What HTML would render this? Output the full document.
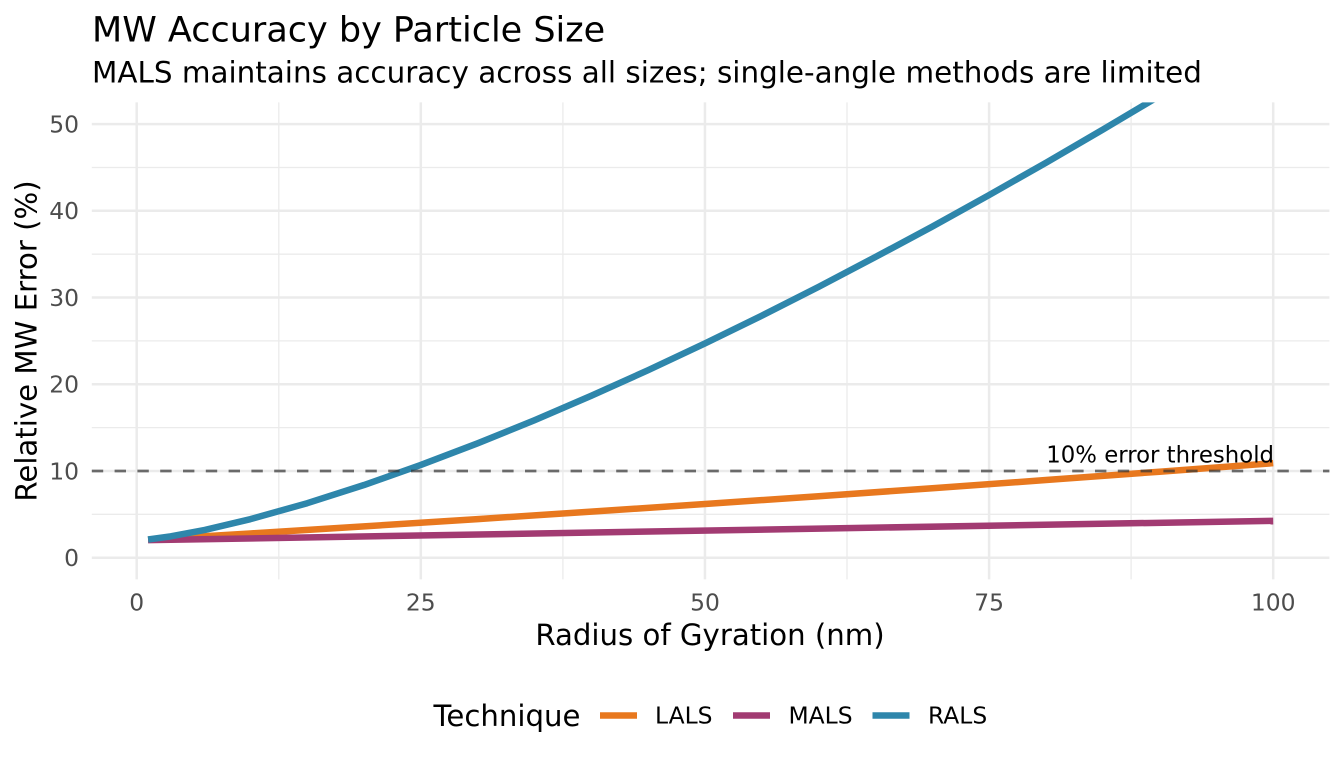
<!DOCTYPE html>
<html>
<head>
<meta charset="utf-8">
<style>
  html, body { margin:0; padding:0; background:#ffffff; }
  body { width:1344px; height:768px; overflow:hidden; }
  svg { display:block; font-family:"DejaVu Sans", "Liberation Sans", sans-serif; }
</style>
</head>
<body>
<svg width="1344" height="768" viewBox="0 0 1344 768" xmlns="http://www.w3.org/2000/svg">
  <rect x="0" y="0" width="1344" height="768" fill="#ffffff"/>
  <defs>
    <clipPath id="panel">
      <rect x="91.8" y="102.4" width="1237.6" height="477"/>
    </clipPath>
  </defs>

  <!-- minor gridlines -->
  <g stroke="#EBEBEB" stroke-width="1.3" fill="none">
    <line x1="278.8" y1="102.4" x2="278.8" y2="579.4"/>
    <line x1="562.9" y1="102.4" x2="562.9" y2="579.4"/>
    <line x1="847.0" y1="102.4" x2="847.0" y2="579.4"/>
    <line x1="1131.1" y1="102.4" x2="1131.1" y2="579.4"/>
    <line x1="91.8" y1="514.3" x2="1329.4" y2="514.3"/>
    <line x1="91.8" y1="427.6" x2="1329.4" y2="427.6"/>
    <line x1="91.8" y1="340.9" x2="1329.4" y2="340.9"/>
    <line x1="91.8" y1="254.2" x2="1329.4" y2="254.2"/>
    <line x1="91.8" y1="167.5" x2="1329.4" y2="167.5"/>
  </g>
  <!-- major gridlines -->
  <g stroke="#EBEBEB" stroke-width="2.5" fill="none">
    <line x1="136.7" y1="102.4" x2="136.7" y2="579.4"/>
    <line x1="420.8" y1="102.4" x2="420.8" y2="579.4"/>
    <line x1="704.95" y1="102.4" x2="704.95" y2="579.4"/>
    <line x1="989.1" y1="102.4" x2="989.1" y2="579.4"/>
    <line x1="1273.2" y1="102.4" x2="1273.2" y2="579.4"/>
    <line x1="91.8" y1="557.7" x2="1329.4" y2="557.7"/>
    <line x1="91.8" y1="471.0" x2="1329.4" y2="471.0"/>
    <line x1="91.8" y1="384.3" x2="1329.4" y2="384.3"/>
    <line x1="91.8" y1="297.5" x2="1329.4" y2="297.5"/>
    <line x1="91.8" y1="210.8" x2="1329.4" y2="210.8"/>
    <line x1="91.8" y1="124.1" x2="1329.4" y2="124.1"/>
  </g>

  <!-- series -->
  <g clip-path="url(#panel)" fill="none" stroke-width="6.5" stroke-linejoin="round" stroke-linecap="butt">
    <polyline stroke="#E8781E" points="148.07,539.67 250.35,533.45 364.0,526.36 477.65,519.09 591.3,511.65 704.95,504.02 818.6,496.21 932.25,488.22 1045.9,480.05 1159.55,471.71 1273.2,463.17"/>
    <polyline stroke="#A23B72" points="148.07,540.16 1273.2,520.84"/>
    <polyline stroke="#2E86AB" points="148.07,539.48 170.8,536.36 204.9,529.91 250.35,519.16 307.2,503.20 364.0,485.02 420.8,464.97 477.65,443.32 534.5,420.25 591.3,395.79 648.1,370.21 704.95,343.41 761.8,315.66 818.6,286.87 875.4,257.04 932.25,226.6 989.1,195.03 1045.9,162.77 1102.7,129.65 1159.55,95.9 1216.4,61.4 1273.2,26.0"/>
  </g>

  <!-- threshold dashed line -->
  <line x1="91.8" y1="471.0" x2="1329.4" y2="471.0" stroke="#333333" stroke-opacity="0.7" stroke-width="2.8" stroke-dasharray="11.4 11.4"/>
  <text x="1274" y="462.3" font-size="22.8" text-anchor="end" fill="#000000">10% error threshold</text>

  <!-- y tick labels -->
  <g font-size="23.4" fill="#4D4D4D" text-anchor="end">
    <text x="79" y="566.0">0</text>
    <text x="79" y="479.3">10</text>
    <text x="79" y="392.6">20</text>
    <text x="79" y="305.8">30</text>
    <text x="79" y="219.1">40</text>
    <text x="79" y="132.4">50</text>
  </g>
  <!-- x tick labels -->
  <g font-size="23.4" fill="#4D4D4D" text-anchor="middle">
    <text x="136.7" y="610.5">0</text>
    <text x="420.8" y="610.5">25</text>
    <text x="704.95" y="610.5">50</text>
    <text x="989.1" y="610.5">75</text>
    <text x="1273.2" y="610.5">100</text>
  </g>

  <!-- axis titles -->
  <text x="710" y="645" font-size="29.2" text-anchor="middle" fill="#000000">Radius of Gyration (nm)</text>
  <text transform="translate(36.5,341) rotate(-90)" font-size="29.2" text-anchor="middle" fill="#000000">Relative MW Error (%)</text>

  <!-- title / subtitle -->
  <text x="92" y="41.7" font-size="35" fill="#000000">MW Accuracy by Particle Size</text>
  <text x="92" y="82.5" font-size="29.4" fill="#000000">MALS maintains accuracy across all sizes; single-angle methods are limited</text>

  <!-- legend -->
  <text x="433.5" y="726" font-size="29.2" fill="#000000">Technique</text>
  <g stroke-width="6.5" fill="none">
    <line x1="600" y1="715.5" x2="637" y2="715.5" stroke="#E8781E"/>
    <line x1="733" y1="715.5" x2="770" y2="715.5" stroke="#A23B72"/>
    <line x1="872.5" y1="715.5" x2="909.5" y2="715.5" stroke="#2E86AB"/>
  </g>
  <g font-size="23.4" fill="#000000">
    <text x="655" y="723.3">LALS</text>
    <text x="788.5" y="723.3">MALS</text>
    <text x="928" y="723.3">RALS</text>
  </g>
</svg>
</body>
</html>
